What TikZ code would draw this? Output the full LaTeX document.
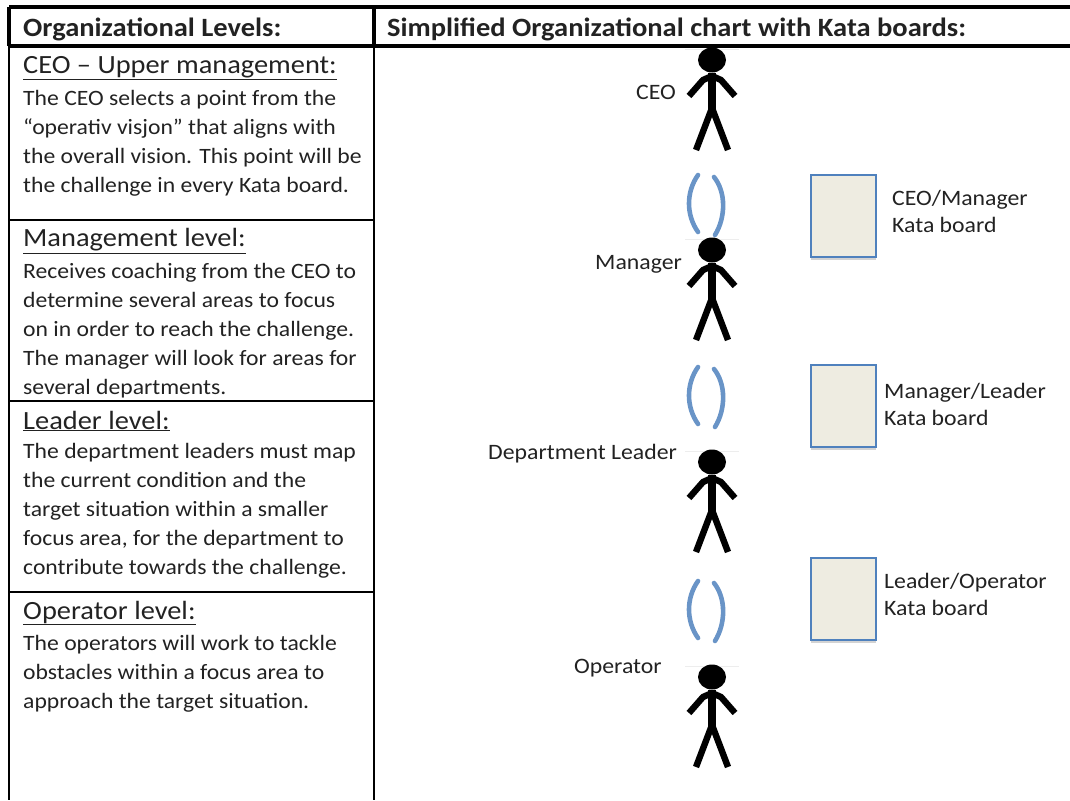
\documentclass[tikz,border=0pt]{standalone}
\usepackage{fontspec}
\setmainfont[FakeStretch=1.08]{Carlito}
\usetikzlibrary{shadows}
\definecolor{boardfill}{HTML}{EEECE1}
\definecolor{boardline}{HTML}{4F81BD}
\definecolor{txt}{HTML}{222222}
\newcommand{\hd}{\fontsize{26.4}{26}\selectfont\bfseries}
\newcommand{\ttl}{\fontsize{26.3}{26}\selectfont}
\newcommand{\bd}{\fontsize{21.9}{29}\selectfont}
\newcommand{\lb}{\fontsize{22}{27}\selectfont}
\tikzset{
 x=1pt,y=-1pt,
 rule/.style={draw=black,line width=1.6pt},
 heavy/.style={draw=black,line width=3.2pt},
 lefttext/.style={anchor=north west,inner sep=0pt,align=left,text=txt},
 label/.style={anchor=west,inner sep=0pt,align=left,text=txt,font=\lb},
 board/.style={draw=boardline,fill=boardfill,line width=1.9pt,minimum width=64.5pt,minimum height=82pt,inner sep=0pt,drop shadow={shadow xshift=0pt,shadow yshift=-3pt,opacity=.35}},
 paren/.style={draw=boardline,line width=4.6pt,line cap=round,opacity=.85},
 limb/.style={draw=black,line width=6.4pt,line join=round},
 stick/.pic={
   \draw[black!7,line width=.8pt] (-27,-11) -- (27,-11);
   \fill[black] (0,0) ellipse (14 and 12.5);
   \draw[limb,line width=8.5pt] (0,13) -- (0,50);
   \draw[limb] (-23,36) -- (-9,20) -- (0,16) -- (9,20) -- (23,36);
   \draw[limb] (-16,90) -- (0,48) -- (16,90);
 },
 parens/.pic={
   \draw[paren] (-13,0) .. controls (-25,17) and (-25,40) .. (-13,57);
   \draw[paren] (3,2) .. controls (15,17) and (15,42) .. (4,60);
 }
}
\begin{document}
\begin{tikzpicture}
\useasboundingbox (0,0) rectangle (1070,800);
% table
\coordinate (tl) at (9,7); \coordinate (tr) at (1070,7);
\coordinate (hl) at (9,46); \coordinate (hm) at (374,46); \coordinate (hr) at (1070,46);
\coordinate (bl) at (9,800); \coordinate (bm) at (374,800); \coordinate (tm) at (374,7);
\coordinate (r1l) at (9,220); \coordinate (r1r) at (374,220);
\coordinate (r2l) at (9,401); \coordinate (r2r) at (374,401);
\coordinate (r3l) at (9,592); \coordinate (r3r) at (374,592);
\draw[heavy] (tl) -- (tr);
\draw[heavy] (hl) -- (hr);
\draw[heavy] (tl) -- (hl);
\draw[heavy] (tm) -- (hm);
\draw[rule] (hl) -- (bl);
\draw[rule] (hm) -- (bm);
\draw[rule] (r1l) -- (r1r);
\draw[rule] (r2l) -- (r2r);
\draw[rule] (r3l) -- (r3r);
% headers
\node[lefttext,font=\hd,anchor=west] (h1) at (23,29) {Organizational Levels:};
\node[lefttext,font=\hd,anchor=west] (h2) at (387,29) {Simplified Organizational chart with Kata boards:};
% left column
\node[lefttext,font=\ttl,anchor=west] (t1) at (23,68) {\underline{CEO – Upper management:}};
\node[lefttext,font=\bd,anchor=north west] (b1) at (23,90) {The CEO selects a point from the\\“operativ visjon” that aligns with\\the overall vision. This point will be\\the challenge in every Kata board.};
\node[lefttext,font=\ttl,anchor=west] (t2) at (23,241) {\underline{Management level:}};
\node[lefttext,font=\bd,anchor=north west] (b2) at (23,263) {Receives coaching from the CEO to\\determine several areas to focus\\on in order to reach the challenge.\\The manager will look for areas for\\several departments.};
\node[lefttext,font=\ttl,anchor=west] (t3) at (23,421) {\underline{Leader level:}};
\node[lefttext,font=\bd,anchor=north west] (b3) at (23,443) {The department leaders must map\\the current condition and the\\target situation within a smaller\\focus area, for the department to\\contribute towards the challenge.};
\node[lefttext,font=\ttl,anchor=west] (t4) at (23,613) {\underline{Operator level:}};
\node[lefttext,font=\bd,anchor=north west] (b4) at (23,635) {The operators will work to tackle\\obstacles within a focus area to\\approach the target situation.};
% figures
\pic at (712,60) {stick};
\pic at (712,250) {stick};
\pic at (712,462) {stick};
\pic at (712,677) {stick};
\pic at (711,175) {parens};
\pic at (711,367) {parens};
\pic at (711,581) {parens};
% labels
\node[label] (l1) at (636,92) {CEO};
\node[label] (l2) at (595,264) {Manager};
\node[label] (l3) at (488,454) {Department Leader};
\node[label] (l4) at (574,668) {Operator};
% boards
\node[board] (k1) at (843.5,216) {};
\node[board] (k2) at (843.5,406) {};
\node[board] (k3) at (843.5,599) {};
\node[label] (m1) at (892,211) {CEO/Manager\\Kata board};
\node[label] (m2) at (884,404) {Manager/Leader\\Kata board};
\node[label] (m3) at (884,594) {Leader/Operator\\Kata board};
\end{tikzpicture}
\end{document}
